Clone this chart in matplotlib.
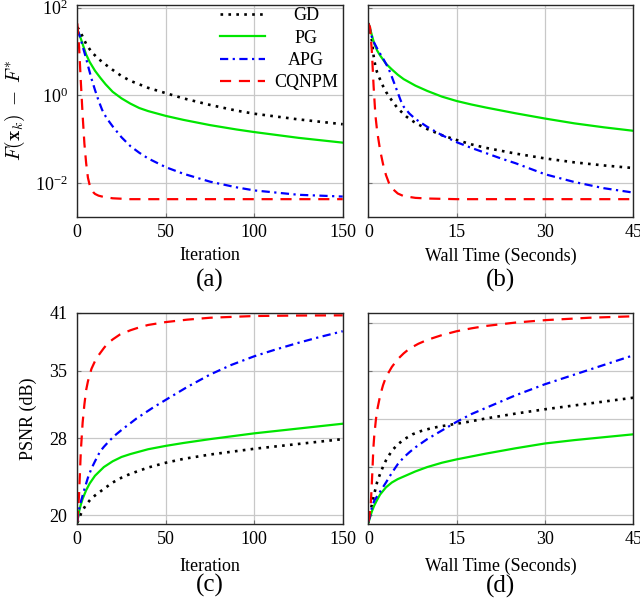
import numpy as np
import matplotlib
matplotlib.use("Agg")
import matplotlib.pyplot as plt
from matplotlib.ticker import NullLocator, FixedLocator, NullFormatter

plt.rcParams['font.family'] = ['Liberation Serif', 'DejaVu Serif']
plt.rcParams['mathtext.fontset'] = 'cm'

methods = ["GD", "PG", "APG", "CQNPM"]

# (a) objective gap vs iteration
it_gd_a = [0, 1, 2, 3, 5, 8, 12, 16, 20, 25, 30, 40, 50, 60, 75, 90, 100, 125, 150]
gap_gd_a = [35.5, 31.6, 26.3, 21.9, 14.8, 9.77, 6.76, 5.01, 3.80, 2.75, 2.14, 1.48, 1.12, 0.851,
            0.603, 0.447, 0.380, 0.282, 0.219]
it_pg_a = [0, 1, 2, 3, 5, 7, 10, 13, 16, 20, 25, 30, 35, 40, 50, 60, 75, 90, 100, 125, 150]
gap_pg_a = [31.6, 25.1, 19.5, 14.8, 8.51, 5.75, 3.63, 2.51, 1.78, 1.20, 0.851, 0.646, 0.513, 0.437,
            0.339, 0.275, 0.209, 0.166, 0.145, 0.107, 0.0832]
it_apg_a = [0, 1, 2, 3, 4, 5, 6, 8, 10, 12, 14, 16, 18, 20, 25, 30, 35, 40, 50, 60, 75, 90, 100, 125, 150]
gap_apg_a = [31.6, 25.1, 18.6, 13.2, 9.55, 6.92, 4.79, 2.40, 1.32, 0.759, 0.468, 0.331, 0.251, 0.195,
             0.110, 0.0692, 0.0490, 0.0363, 0.0229, 0.0162, 0.0107, 0.00794, 0.00676, 0.00537, 0.0049]
it_cq_a = [0, 1, 2, 3, 4, 5, 6, 7, 8, 9, 10, 12, 15, 20, 30, 150]
gap_cq_a = [43.7, 12.6, 2.0, 0.355, 0.0794, 0.0282, 0.0132, 0.00891, 0.00708, 0.00617, 0.00562,
            0.00513, 0.00479, 0.00447, 0.00427, 0.00427]

# (b) objective gap vs wall time
t_gd_b = [0, 0.3, 0.6, 0.9, 1.2, 1.5, 2, 2.5, 3, 4, 5, 6.5, 8, 10, 12.5, 15, 17.5, 20, 25, 30, 35, 40, 45]
gap_gd_b = [43.7, 31.6, 17.8, 7.94, 4.57, 3.31, 2.29, 1.62, 1.20, 0.759, 0.501, 0.324, 0.234, 0.170,
            0.123, 0.0955, 0.0759, 0.0631, 0.0468, 0.0363, 0.0295, 0.0251, 0.0219]
t_pg_b = [0, 0.25, 0.5, 1, 1.5, 2, 3, 4, 5, 6, 8, 10, 12.5, 15, 17.5, 20, 25, 30, 35, 40, 45]
gap_pg_b = [43.7, 35.5, 26.3, 15.1, 10.5, 8.13, 5.25, 3.89, 2.95, 2.34, 1.66, 1.26, 0.933, 0.741,
            0.617, 0.525, 0.389, 0.295, 0.229, 0.186, 0.155]
t_apg_b = [0, 0.3, 0.6, 1, 1.5, 2, 2.5, 3, 3.5, 4, 4.5, 5, 5.5, 6, 7, 8, 10, 12.5, 15, 17.5, 20, 22.5,
           25, 30, 35, 40, 45]
gap_apg_b = [43.7, 31.6, 21.4, 15.8, 11.7, 8.91, 6.92, 5.25, 3.89, 2.63, 1.74, 1.15, 0.759, 0.550,
             0.380, 0.288, 0.191, 0.123, 0.0851, 0.0631, 0.0479, 0.0363, 0.0282, 0.0158, 0.0105,
             0.00759, 0.00603]
t_cq_b = [0, 0.3, 0.6, 0.9, 1.2, 1.5, 2, 2.5, 3, 3.5, 4, 5, 6, 8, 10, 15, 45]
gap_cq_b = [43.7, 35.5, 10.0, 1.58, 0.355, 0.151, 0.0562, 0.0269, 0.0151, 0.01, 0.00759, 0.00575,
            0.00501, 0.00457, 0.00442, 0.00427, 0.00427]

# (c) PSNR vs iteration
it_gd_c = [0, 1, 2.5, 5, 7.5, 10, 14, 20, 25, 30, 40, 50, 60, 75, 100, 125, 150]
psnr_gd_c = [19.2, 19.7, 20.35, 21.1, 21.65, 22.05, 22.6, 23.4, 23.9, 24.3, 24.95, 25.45, 25.85,
             26.3, 26.9, 27.4, 27.9]
it_pg_c = [0, 1, 2, 3, 5, 7, 10, 15, 20, 25, 30, 40, 50, 60, 75, 100, 125, 150]
psnr_pg_c = [19.3, 20.4, 21.1, 21.7, 22.6, 23.3, 24.1, 25.0, 25.6, 26.05, 26.35, 26.85, 27.2, 27.5,
             27.9, 28.5, 29.0, 29.5]
it_apg_c = [0, 1, 2, 4, 6, 8, 10, 12.8, 15, 18.5, 22, 26, 30, 33.5, 43, 52, 62, 75, 87, 100, 112,
            125, 137, 150]
psnr_apg_c = [19.3, 20.6, 21.4, 22.7, 23.9, 24.85, 25.6, 26.6, 27.1, 27.8, 28.4, 29.0, 29.55, 30.05,
              31.2, 32.2, 33.3, 34.6, 35.6, 36.5, 37.2, 37.9, 38.5, 39.1]
it_cq_c = [0, 1, 2, 3, 4, 5, 6, 8, 10, 12, 15, 17, 20, 24, 30, 35, 40, 50, 62, 75, 100, 125, 150]
psnr_cq_c = [19.3, 22.2, 26.7, 29.6, 31.5, 33.0, 33.9, 35.2, 36.0, 36.6, 37.35, 37.8, 38.25, 38.75,
             39.2, 39.5, 39.75, 40.05, 40.3, 40.5, 40.68, 40.73, 40.75]

# (d) PSNR vs wall time
t_gd_d = [0, 0.3, 0.6, 1, 1.5, 2, 2.5, 3, 4, 5, 6, 7.5, 9, 10.5, 12, 14, 17, 20, 25, 30, 35, 40, 45]
psnr_gd_d = [19.2, 20.2, 21.1, 22.2, 23.45, 24.3, 25.05, 25.7, 26.7, 27.35, 27.85, 28.4, 28.75, 29.0,
             29.2, 29.4, 29.7, 30.05, 30.55, 31.0, 31.4, 31.8, 32.2]
t_pg_d = [0, 0.3, 0.6, 1, 1.5, 2, 3, 4, 5, 6.5, 8, 10, 12.5, 15, 17.5, 20, 25, 30, 35, 40, 45]
psnr_pg_d = [19.2, 19.8, 20.4, 21.0, 21.6, 22.15, 22.9, 23.4, 23.75, 24.15, 24.55, 25.0, 25.45, 25.8,
             26.1, 26.4, 26.95, 27.45, 27.8, 28.1, 28.4]
t_apg_d = [0, 0.3, 0.6, 1, 2, 3, 4, 5, 6, 7, 8, 10, 12.5, 15, 17.5, 20, 25, 30, 35, 40, 45]
psnr_apg_d = [19.3, 19.9, 20.8, 21.5, 22.45, 23.4, 24.4, 25.3, 26.0, 26.55, 27.05, 27.9, 28.8, 29.7,
              30.5, 31.15, 32.45, 33.6, 34.6, 35.6, 36.6]
t_cq_d = [0, 0.2, 0.4, 0.55, 0.7, 0.85, 1, 1.3, 1.6, 2, 2.5, 3, 4, 5, 6, 7, 8.5, 10, 12.5, 15, 17.5,
          20, 25, 30, 37.5, 45]
psnr_cq_d = [19.3, 19.9, 21.0, 22.7, 24.7, 26.9, 28.2, 30.0, 31.2, 32.4, 33.5, 34.35, 35.4, 36.2,
             36.8, 37.3, 37.8, 38.2, 38.7, 39.1, 39.4, 39.65, 40.0, 40.25, 40.5, 40.65]

styles = {
    "GD": dict(color="black", ls=(0, (1, 2.0)), lw=1.9),
    "PG": dict(color="#00e600", ls="-", lw=1.6),
    "APG": dict(color="#0000ff", ls=(0, (3.7, 2, 1, 2)), lw=1.6),
    "CQNPM": dict(color="#ff0000", ls=(0, (5, 3.5)), lw=1.6),
}

fig = plt.figure(figsize=(6.4, 6.05), dpi=100)
ax_a = fig.add_axes([0.1208, 0.6418, 0.4147, 0.3499])
ax_b = fig.add_axes([0.5755, 0.6418, 0.4141, 0.3499])
ax_c = fig.add_axes([0.1208, 0.1334, 0.4147, 0.3500])
ax_d = fig.add_axes([0.5755, 0.1334, 0.4141, 0.3500])

panels = [
    (ax_a, [(it_gd_a, gap_gd_a), (it_pg_a, gap_pg_a), (it_apg_a, gap_apg_a), (it_cq_a, gap_cq_a)]),
    (ax_b, [(t_gd_b, gap_gd_b), (t_pg_b, gap_pg_b), (t_apg_b, gap_apg_b), (t_cq_b, gap_cq_b)]),
    (ax_c, [(it_gd_c, psnr_gd_c), (it_pg_c, psnr_pg_c), (it_apg_c, psnr_apg_c), (it_cq_c, psnr_cq_c)]),
    (ax_d, [(t_gd_d, psnr_gd_d), (t_pg_d, psnr_pg_d), (t_apg_d, psnr_apg_d), (t_cq_d, psnr_cq_d)]),
]

for ax, series in panels:
    for name, (x, y) in zip(methods, series):
        ax.plot(x, y, label=name, **styles[name])
    ax.grid(True, color="#c8c8c8", lw=0.9)
    ax.set_axisbelow(True)
    for s in ax.spines.values():
        s.set_color("0.15")
        s.set_linewidth(1.0)
    ax.tick_params(direction="in", length=3, width=0.8, color="0.45", labelsize=13)
    ax.tick_params(axis="x", pad=5)
    ax.tick_params(axis="y", pad=7)

for ax in (ax_a, ax_b):
    ax.set_yscale("log")
    ax.set_ylim(10 ** -2.77, 10 ** 2.06)
    ax.yaxis.set_major_locator(FixedLocator([1e-2, 1e0, 1e2]))
    ax.yaxis.set_minor_locator(NullLocator())

for ax in (ax_c, ax_d):
    ax.set_ylim(19.06, 41.04)

ax_c.set_yticks([20, 28, 35, 41])
ax_d.set_yticks([20, 25, 30, 35, 40])
ax_b.yaxis.set_major_formatter(NullFormatter())
ax_d.yaxis.set_major_formatter(NullFormatter())

for ax in (ax_a, ax_c):
    ax.set_xlim(0, 150)
    ax.set_xticks([0, 50, 100, 150])
    ax.set_xlabel("Iteration", fontsize=13)
for ax in (ax_b, ax_d):
    ax.set_xlim(0, 45)
    ax.set_xticks([0, 15, 30, 45])
    ax.set_xlabel("Wall Time (Seconds)", fontsize=13)

ax_a.xaxis.set_label_coords(0.5, -0.145)
ax_b.xaxis.set_label_coords(0.5, -0.145)
ax_c.xaxis.set_label_coords(0.5, -0.158)
ax_d.xaxis.set_label_coords(0.5, -0.158)

ax_a.set_ylabel(r"$F(\mathbf{x}_k)\;-\;F^{*}$", fontsize=14)
ax_a.yaxis.set_label_coords(-0.19, 0.5)
ax_c.set_ylabel("PSNR (dB)", fontsize=13)
ax_c.yaxis.set_label_coords(-0.153, 0.5)

for ax, lab, yy in [(ax_a, "(a)", -0.30), (ax_b, "(b)", -0.30), (ax_c, "(c)", -0.29), (ax_d, "(d)", -0.295)]:
    ax.text(0.5, yy, lab, transform=ax.transAxes, ha="center", va="center", fontsize=18)

leg = ax_a.legend(loc="upper left", bbox_to_anchor=(0.538, 0.99), frameon=False, fontsize=13,
                  handlelength=2.5, handletextpad=0.5, labelspacing=0.3, borderpad=0,
                  borderaxespad=0)
fig.canvas.draw()
widths = [t.get_window_extent().width for t in leg.get_texts()]
for t, w in zip(leg.get_texts(), widths):
    t.set_x((max(widths) - w) / 2)

fig.savefig("out.png", dpi=100)
